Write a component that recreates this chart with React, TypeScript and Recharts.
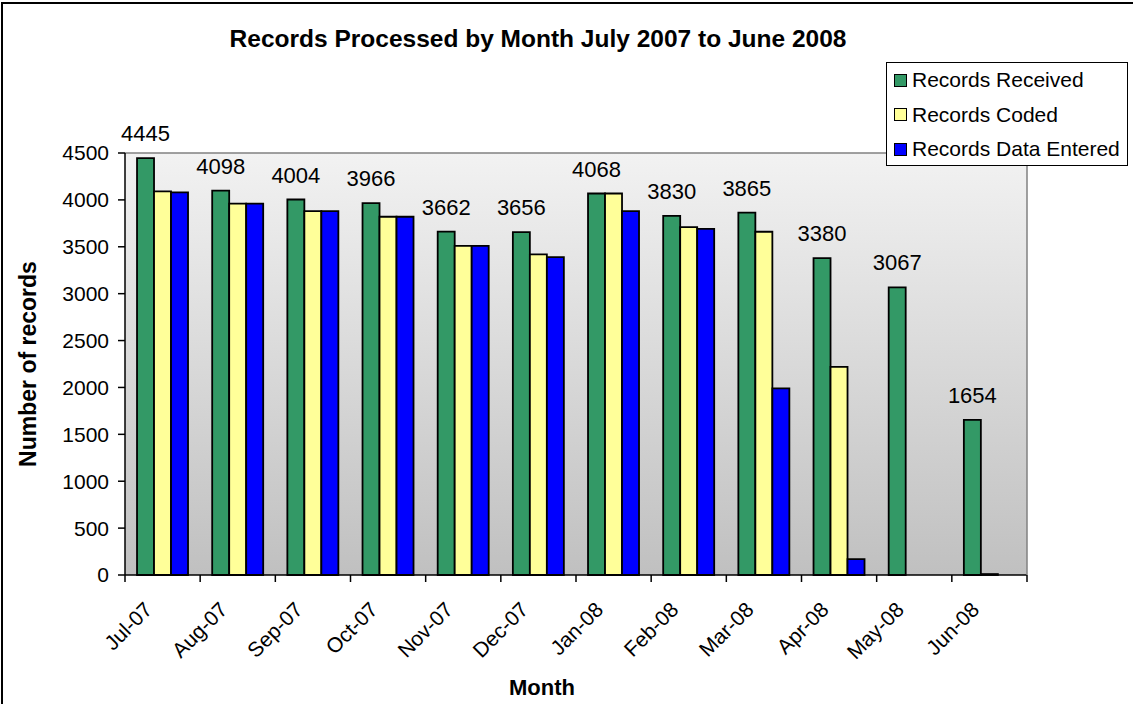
import { BarChart, Bar, XAxis, YAxis, CartesianGrid, LabelList } from "recharts";

const months = ["Jul-07", "Aug-07", "Sep-07", "Oct-07", "Nov-07", "Dec-07", "Jan-08", "Feb-08", "Mar-08", "Apr-08", "May-08", "Jun-08"];
const received = [4445, 4098, 4004, 3966, 3662, 3656, 4068, 3830, 3865, 3380, 3067, 1654];
const coded = [4090, 3960, 3880, 3820, 3510, 3420, 4068, 3710, 3660, 2220, 0, 10];
const dataEntered = [4080, 3960, 3880, 3820, 3510, 3390, 3880, 3690, 1990, 170, 0, 0];
const yTicks = [0, 500, 1000, 1500, 2000, 2500, 3000, 3500, 4000, 4500];

const series = [
  { key: "received", name: "Records Received", color: "#339966" },
  { key: "coded", name: "Records Coded", color: "#FFFF99" },
  { key: "entered", name: "Records Data Entered", color: "#0000FF" },
];

const data = months.map((m, i) => ({
  month: m,
  received: received[i],
  coded: coded[i],
  entered: dataEntered[i],
}));

const FONT = "'Liberation Sans', Arial, sans-serif";
const W = 1133;
const H = 704;
// plot area: x 125..1027, y 153..575
const margin = { top: 152, right: 105, bottom: 0, left: 0 };
const band = (1027 - 125) / months.length;

const MonthTick = ({ x, y, payload, index }: any) => {
  return (
    <g>
      <line x1={x - band / 2} y1={y} x2={x - band / 2} y2={y + 7} stroke="#000" strokeWidth={1.5} />
      {index === months.length - 1 && (
        <line x1={x + band / 2} y1={y} x2={x + band / 2} y2={y + 7} stroke="#000" strokeWidth={1.5} />
      )}
      <text
        x={x - 9}
        y={y + 36}
        textAnchor="end"
        transform={`rotate(-45 ${x - 9} ${y + 36})`}
        fontSize={21}
        fontFamily={FONT}
        fill="#000"
      >
        {payload.value}
      </text>
    </g>
  );
};

const LegendBox = () => (
  <div
    style={{
      position: "absolute",
      left: 886,
      top: 62,
      width: 242,
      height: 104,
      border: "1.5px solid #000",
      background: "#fff",
      fontFamily: FONT,
      fontSize: 21,
      boxSizing: "border-box",
    }}
  >
    {series.map((s) => (
      <div key={s.key} style={{ display: "flex", alignItems: "center", height: 34.5, paddingLeft: 7 }}>
        <span
          style={{
            display: "inline-block",
            width: 11,
            height: 11,
            background: s.color,
            border: "1.5px solid #000",
            marginRight: 5,
          }}
        />
        {s.name}
      </div>
    ))}
  </div>
);

export default function App() {
  return (
    <div style={{ position: "relative", width: W, height: H, overflow: "hidden", background: "#fff" }}>
      <style>{"body{margin:0}"}</style>
      <div
        style={{
          position: "absolute",
          left: 1,
          top: 2,
          width: W + 20,
          height: H + 20,
          borderLeft: "2px solid #000",
          borderTop: "2px solid #000",
        }}
      />
      <div
        style={{
          position: "absolute",
          left: 0,
          width: 1076,
          top: 25,
          textAlign: "center",
          fontFamily: FONT,
          fontWeight: "bold",
          fontSize: 24.5,
        }}
      >
        Records Processed by Month July 2007 to June 2008
      </div>
      <div style={{ position: "absolute", left: 0, top: 0 }}>
        <BarChart width={W} height={H} data={data} margin={margin} barGap={0} barCategoryGap="16%">
          <defs>
            <linearGradient id="plotBg" x1="0" y1="0" x2="0" y2="1">
              <stop offset="0%" stopColor="#f2f2f2" />
              <stop offset="100%" stopColor="#c0c0c0" />
            </linearGradient>
          </defs>
          <CartesianGrid horizontal={false} vertical={false} fill="url(#plotBg)" />
          <XAxis
            dataKey="month"
            interval={0}
            tickLine={false}
            tickSize={0}
            tickMargin={0}
            height={129}
            axisLine={{ stroke: "#000", strokeWidth: 1.5 }}
            tick={<MonthTick />}
          />
          <XAxis
            xAxisId="top"
            orientation="top"
            dataKey="month"
            height={1}
            tick={false}
            tickLine={false}
            axisLine={{ stroke: "#808080", strokeWidth: 1.5 }}
          />
          <YAxis
            domain={[0, 4500]}
            ticks={yTicks}
            interval={0}
            width={125}
            tickSize={7}
            tickMargin={9}
            axisLine={{ stroke: "#000", strokeWidth: 1.5 }}
            tickLine={{ stroke: "#000", strokeWidth: 1.5 }}
            tick={{ fill: "#000", fontSize: 21, fontFamily: FONT }}
          />
          <YAxis
            yAxisId="right"
            orientation="right"
            width={1}
            domain={[0, 4500]}
            tick={false}
            tickLine={false}
            axisLine={{ stroke: "#808080", strokeWidth: 1.5 }}
          />
          {series.map((s) => (
            <Bar key={s.key} dataKey={s.key} name={s.name} fill={s.color} stroke="#000" strokeWidth={1.8} isAnimationActive={false}>
              {s.key === "received" && (
                <LabelList dataKey="received" position="top" offset={17} fill="#000" fontSize={22} fontFamily={FONT} />
              )}
            </Bar>
          ))}
        </BarChart>
      </div>
      <LegendBox />
      <div
        style={{
          position: "absolute",
          left: 28,
          top: 364,
          transform: "translate(-50%, -50%) rotate(-90deg)",
          whiteSpace: "nowrap",
          fontFamily: FONT,
          fontWeight: "bold",
          fontSize: 23,
        }}
      >
        Number of records
      </div>
      <div
        style={{
          position: "absolute",
          left: 492,
          width: 100,
          top: 675,
          textAlign: "center",
          fontFamily: FONT,
          fontWeight: "bold",
          fontSize: 22,
        }}
      >
        Month
      </div>
    </div>
  );
}
